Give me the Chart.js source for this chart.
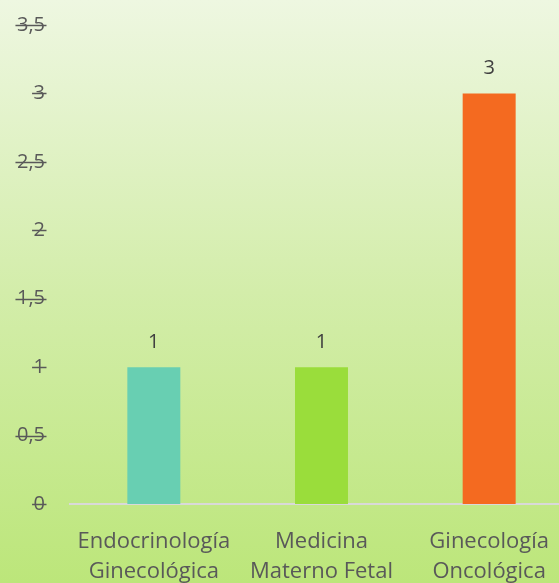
<!DOCTYPE html>
<html>
<head>
<meta charset="utf-8">
<script src="https://cdn.jsdelivr.net/npm/chart.js@4.4.1/dist/chart.umd.min.js"></script>
<style>
    html, body {
        margin: 0;
        padding: 0;
        width: 559px;
        height: 583px;
        overflow: hidden;
        background: linear-gradient(to bottom, #eef7e1 0%, #d3edaa 50%, #bce67a 100%);
    }
    canvas { display: block; }
</style>
</head>
<body>
<canvas id="chart" width="573" height="583"></canvas>
<script>
// datos del gráfico
const categorias = [
    ['Endocrinología', 'Ginecológica'],
    ['Medicina', 'Materno Fetal'],
    ['Ginecología', 'Oncológica']
];
const valores = [1, 1, 3];
const colores = ['#68cfb2', '#9add3b', '#f46a20'];
const ticksY = [0, 0.5, 1, 1.5, 2, 2.5, 3, 3.5];

const fuente = '"Open Sans", Lato, sans-serif';

function formato(v) {
    return String(v).replace('.', ',');
}

// etiquetas de valor sobre las barras
const etiquetasBarras = {
    id: 'etiquetasBarras',
    afterDatasetsDraw(chart) {
        const ctx = chart.ctx;
        const meta = chart.getDatasetMeta(0);
        ctx.save();
        ctx.font = '20px ' + fuente;
        ctx.fillStyle = '#404040';
        ctx.textAlign = 'center';
        ctx.textBaseline = 'middle';
        meta.data.forEach((bar, i) => {
            ctx.fillText(formato(valores[i]), bar.x, bar.y - 25);
        });
        ctx.restore();
    }
};

// las marcas del eje Y pasan por encima del texto
const marcasY = {
    id: 'marcasY',
    afterDraw(chart) {
        const ctx = chart.ctx;
        const y = chart.scales.y;
        const derecha = chart.chartArea.left - 25;
        ctx.save();
        ctx.font = '20px ' + fuente;
        ctx.strokeStyle = '#595959';
        ctx.lineWidth = 1.5;
        y.ticks.forEach(t => {
            const py = Math.round(y.getPixelForValue(t.value)) + 0.5;
            const w = ctx.measureText(formato(t.value)).width;
            ctx.beginPath();
            ctx.moveTo(derecha - w - 1.5, py);
            ctx.lineTo(derecha + 1.5, py);
            ctx.stroke();
        });
        ctx.restore();
    }
};

new Chart(document.getElementById('chart'), {
    type: 'bar',
    data: {
        labels: categorias,
        datasets: [{
            data: valores,
            backgroundColor: colores,
            borderWidth: 0,
            barPercentage: 0.316,
            categoryPercentage: 1
        }]
    },
    options: {
        responsive: false,
        animation: false,
        devicePixelRatio: 1,
        layout: { padding: { top: 25, left: 0, right: 0, bottom: 0 } },
        plugins: {
            legend: { display: false },
            tooltip: { enabled: false }
        },
        scales: {
            x: {
                grid: { display: false, drawTicks: false },
                border: { display: true, color: '#d9d9d9', width: 2 },
                ticks: {
                    color: '#595959',
                    font: { family: fuente, size: 22, lineHeight: 1.4 },
                    padding: 22,
                    maxRotation: 0,
                    autoSkip: false
                },
                afterFit(scale) { scale.height = 79; }
            },
            y: {
                min: 0,
                max: 3.5,
                grid: { display: false, drawTicks: false },
                border: { display: false },
                afterBuildTicks(scale) {
                    scale.ticks = ticksY.map(v => ({ value: v }));
                },
                ticks: {
                    color: '#595959',
                    font: { family: fuente, size: 20 },
                    padding: 25,
                    callback: v => formato(v)
                },
                afterFit(scale) {
                    scale.width = 70;
                    scale.paddingTop = 0;
                    scale.paddingBottom = 0;
                }
            }
        }
    },
    plugins: [etiquetasBarras, marcasY]
});
</script>
</body>
</html>
